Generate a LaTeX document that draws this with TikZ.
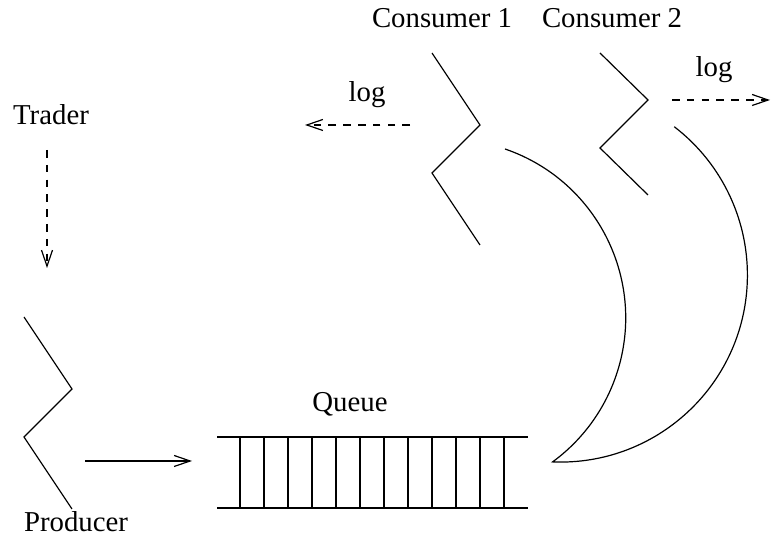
\documentclass[tikz,border=0pt]{standalone}
\usepackage{fontspec}
\setmainfont{Liberation Serif}
\usetikzlibrary{arrows.meta}
\tikzset{
  line/.style={line width=0.6pt},
  label/.style={anchor=base, inner sep=0pt, font=\fontsize{14.4}{17}\selectfont},
  flow/.style={line, -{Straight Barb[length=8pt, width=5.5pt, line width=0.6pt]}},
  logflow/.style={flow, dash pattern=on 3.8pt off 3.6pt}
}
% thread drawn as a zigzag: top x, top y, drop of the slanted legs
\newcommand{\thread}[3]{\draw[line] (#1,#2) -- ++(48,-#3) -- ++(-48,-48) -- ++(48,-#3);}

\begin{document}
\begin{tikzpicture}[x=0.5pt, y=0.5pt]
  \useasboundingbox (0,0) rectangle (772,539);
  % labels
  \node[label] (trader) at (51,414) {Trader};
  \node[label] (producer) at (76,7) {Producer};
  \node[label] (queuelbl) at (350,127) {Queue};
  \node[label] (cons1) at (442,511) {Consumer 1};
  \node[label] (cons2) at (612,511) {Consumer 2};
  \node[label] (log1) at (367,437) {log};
  \node[label] (log2) at (714,462) {log};
  % threads
  \thread{24}{222}{72}
  \thread{432}{486}{72}
  \thread{600}{486}{47}
  % queue
  \draw[line] (217,102) -- (528,102);
  \draw[line] (217,31) -- (528,31);
  \foreach \i in {240,264,...,504}
    \draw[line] (\i,102) -- (\i,31);
  % arrows
  \coordinate (tr-a) at (47,389);
  \coordinate (tr-b) at (47,271);
  \coordinate (pr-a) at (85,78);
  \coordinate (pr-b) at (192,78);
  \coordinate (l1-a) at (410,414);
  \coordinate (l1-b) at (305,414);
  \coordinate (l2-a) at (672,439);
  \coordinate (l2-b) at (770,439);
  \draw[logflow] (tr-a) -- (tr-b);
  \draw[flow] (pr-a) -- (pr-b);
  \draw[logflow] (l1-a) -- (l1-b);
  \draw[logflow] (l2-a) -- (l2-b);
  % crescent
  \draw[line] (505,390) arc[start angle=71.1, end angle=-53.8, radius=178.5]
    arc[start angle=-92.4, end angle=52.5, radius=187];
\end{tikzpicture}
\end{document}
